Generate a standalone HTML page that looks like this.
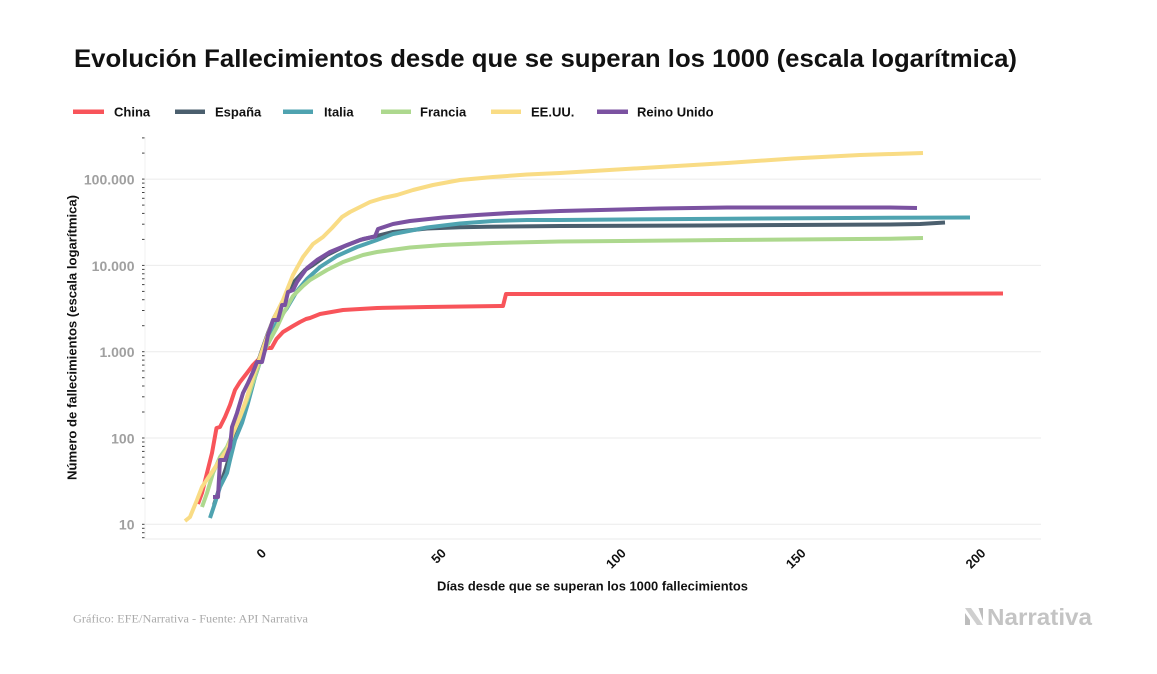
<!DOCTYPE html>
<html><head><meta charset="utf-8"><style>
html,body{margin:0;padding:0;background:#fff;}
svg{display:block;}
text{font-family:"Liberation Sans",sans-serif;}
</style></head><body>
<svg width="1157" height="674" viewBox="0 0 1157 674" xmlns="http://www.w3.org/2000/svg">
<rect width="1157" height="674" fill="#fff"/>
<text x="74" y="67" font-size="25" font-weight="bold" fill="#111" textLength="943" lengthAdjust="spacingAndGlyphs">Evolución Fallecimientos desde que se superan los 1000 (escala logarítmica)</text>

<g font-size="13" font-weight="bold" fill="#111">
<rect x="73" y="109.5" width="31" height="4.5" fill="#F8545A"/><text x="114" y="116.7">China</text>
<rect x="175" y="109.5" width="30" height="4.5" fill="#4B5F6E"/><text x="215" y="116.7">España</text>
<rect x="283" y="109.5" width="30" height="4.5" fill="#4FA3B0"/><text x="324" y="116.7">Italia</text>
<rect x="381" y="109.5" width="30" height="4.5" fill="#ADD88E"/><text x="420" y="116.7">Francia</text>
<rect x="491" y="109.5" width="30" height="4.5" fill="#F9DC85"/><text x="531" y="116.7">EE.UU.</text>
<rect x="597" y="109.5" width="31" height="4.5" fill="#7B52A1"/><text x="637" y="116.7">Reino Unido</text>
</g>

<g stroke="#ebebeb" stroke-width="1">
<line x1="145" y1="179.1" x2="1041" y2="179.1"/>
<line x1="145" y1="265.4" x2="1041" y2="265.4"/>
<line x1="145" y1="351.7" x2="1041" y2="351.7"/>
<line x1="145" y1="438" x2="1041" y2="438"/>
<line x1="145" y1="524.3" x2="1041" y2="524.3"/>
<line x1="145" y1="539" x2="1041" y2="539"/>
<line x1="145" y1="137" x2="145" y2="539" stroke="#f2f2f2"/>
</g>

<g stroke="#444" stroke-width="1">
<line x1="142" x2="144.5" y1="537.7" y2="537.7"/><line x1="142" x2="144.5" y1="532.7" y2="532.7"/><line x1="142" x2="144.5" y1="528.3" y2="528.3"/>
<line x1="142" x2="144.5" y1="524.3" y2="524.3"/><line x1="142" x2="144.5" y1="498.3" y2="498.3"/><line x1="142" x2="144.5" y1="483.1" y2="483.1"/><line x1="142" x2="144.5" y1="472.3" y2="472.3"/><line x1="142" x2="144.5" y1="464" y2="464"/><line x1="142" x2="144.5" y1="457.2" y2="457.2"/><line x1="142" x2="144.5" y1="451.4" y2="451.4"/><line x1="142" x2="144.5" y1="446.4" y2="446.4"/><line x1="142" x2="144.5" y1="442" y2="442"/>
<line x1="142" x2="144.5" y1="438" y2="438"/><line x1="142" x2="144.5" y1="412" y2="412"/><line x1="142" x2="144.5" y1="396.8" y2="396.8"/><line x1="142" x2="144.5" y1="386" y2="386"/><line x1="142" x2="144.5" y1="377.7" y2="377.7"/><line x1="142" x2="144.5" y1="370.9" y2="370.9"/><line x1="142" x2="144.5" y1="365.1" y2="365.1"/><line x1="142" x2="144.5" y1="360.1" y2="360.1"/><line x1="142" x2="144.5" y1="355.7" y2="355.7"/>
<line x1="142" x2="144.5" y1="351.7" y2="351.7"/><line x1="142" x2="144.5" y1="325.7" y2="325.7"/><line x1="142" x2="144.5" y1="310.5" y2="310.5"/><line x1="142" x2="144.5" y1="299.7" y2="299.7"/><line x1="142" x2="144.5" y1="291.4" y2="291.4"/><line x1="142" x2="144.5" y1="284.6" y2="284.6"/><line x1="142" x2="144.5" y1="278.8" y2="278.8"/><line x1="142" x2="144.5" y1="273.8" y2="273.8"/><line x1="142" x2="144.5" y1="269.4" y2="269.4"/>
<line x1="142" x2="144.5" y1="265.4" y2="265.4"/><line x1="142" x2="144.5" y1="239.4" y2="239.4"/><line x1="142" x2="144.5" y1="224.2" y2="224.2"/><line x1="142" x2="144.5" y1="213.4" y2="213.4"/><line x1="142" x2="144.5" y1="205.1" y2="205.1"/><line x1="142" x2="144.5" y1="198.3" y2="198.3"/><line x1="142" x2="144.5" y1="192.5" y2="192.5"/><line x1="142" x2="144.5" y1="187.5" y2="187.5"/><line x1="142" x2="144.5" y1="183.1" y2="183.1"/>
<line x1="142" x2="144.5" y1="179.1" y2="179.1"/><line x1="142" x2="144.5" y1="153.1" y2="153.1"/><line x1="142" x2="144.5" y1="137.9" y2="137.9"/>
</g>

<g font-size="14" font-weight="bold" fill="#a0a0a0" text-anchor="end">
<text x="134.5" y="184.5">100.000</text>
<text x="134.5" y="270.8">10.000</text>
<text x="134.5" y="357.1">1.000</text>
<text x="134.5" y="443.4">100</text>
<text x="134.5" y="529.7">10</text>
</g>

<text transform="translate(76.5,337.5) rotate(-90)" text-anchor="middle" font-size="13" font-weight="bold" fill="#111" textLength="285" lengthAdjust="spacingAndGlyphs">Número de fallecimientos (escala logarítmica)</text>

<g font-size="13" font-weight="bold" fill="#111" text-anchor="end">
<text transform="translate(267,554) rotate(-45)">0</text>
<text transform="translate(446.9,554) rotate(-45)">50</text>
<text transform="translate(626.7,554) rotate(-45)">100</text>
<text transform="translate(806.6,554) rotate(-45)">150</text>
<text transform="translate(986.4,554) rotate(-45)">200</text>
</g>
<text x="592.5" y="590.5" text-anchor="middle" font-size="13" font-weight="bold" fill="#111" textLength="311" lengthAdjust="spacingAndGlyphs">Días desde que se superan los 1000 fallecimientos</text>

<g fill="none" stroke-width="4" stroke-linejoin="round" stroke-linecap="butt">
<polyline stroke="#F8545A" points="198,504 202,493 207,473 212,453 216.5,428 220,427 225,417 230,405 235,390 240,382 247,373 253,365 258,360 263,353 266.5,348 271.5,348 276.5,339 283,332 293,326 300,322 306,319 310,318 320,314 343,310 377,308 427,307 500,306 503,306 506,294 590,294 800,294 1003,293.5"/>
<polyline stroke="#4B5F6E" points="214,505 220,486 226,468 232,448 238,428 244,408 250,388 256,368 262,350 268,333 274,318 282,303 293,283 305,270 313,265 327,255 345,246 360,240 393,232 427,228.5 460,227.3 487,226.7 560,226 700,225.5 890,224.5 920,224 945,222.5"/>
<polyline stroke="#4FA3B0" points="210,518 215,503 220,487 227,473 230,460 235,440 242,423 248,403 255,377 263,353 270,337 278,320 287,308 297,291 307,279 320,267 337,256 357,247 377,240 393,234 427,227.5 460,223.5 493,221 527,220 560,220 727,218.7 890,217.7 970,217.5"/>
<polyline stroke="#ADD88E" points="202,507 207,493 213,473 220,457 227,447 233,433 240,417 247,400 257,370 263,353 270,340 277,327 283,314 293,296 303,286 310,280 327,270 343,262 363,255 377,252 410,247.5 443,245 493,243 560,241.5 727,240 890,238.7 923,238"/>
<polyline stroke="#F9DC85" points="185,521 190,517 197,500 202,487 210,475 218,463 227,450 233,433 240,417 247,397 253,377 260,357 267,337 273,320 283,300 293,275 303,257 313,244 323,237 332,228 342,217 350,212 360,207 370,202 383,198 397,195 413,190 433,185 460,180 493,177 527,174.5 560,173 593,171 660,167 727,163 793,158.5 860,155 923,153"/>
<polyline stroke="#7B52A1" points="213,497 218,497 220,460 225,460 230,447 232,427 237,413 243,393 248,383 253,372 257,362 262,362 265,350 268,335 273,320 278,320 282,305 285,305 288,292 293,290 297,282 307,268 317,260 330,252 347,245 363,239 375,236.5 378,229 393,224 410,221 443,217.5 477,215 510,213 560,211 660,208.5 727,207.5 890,207.5 917,208"/>
</g>

<text x="73" y="622.5" style="font-family:'Liberation Serif',serif" font-size="11.5" fill="#aaa" textLength="235" lengthAdjust="spacingAndGlyphs">Gráfico: EFE/Narrativa - Fuente: API Narrativa</text>

<g>
<polygon points="965,608 971,608 983,625 977,625" fill="#cfcfcf"/>
<polygon points="978.5,608 983,608 983,621" fill="#bdbdbd"/>
<polygon points="965,613 970,620 970,625 965,625" fill="#bdbdbd"/>
<text x="987" y="625" font-size="23" font-weight="bold" fill="#c4c4c4" textLength="105" lengthAdjust="spacingAndGlyphs">Narrativa</text>
</g>
</svg>
</body></html>
